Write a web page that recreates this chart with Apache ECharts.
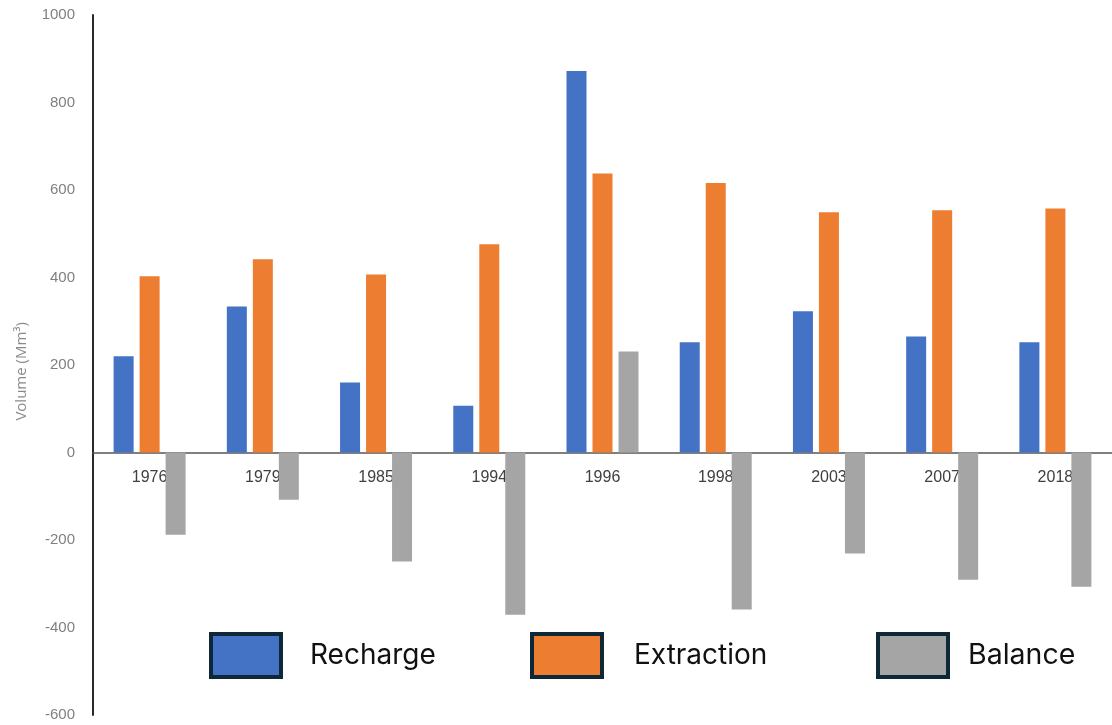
<!DOCTYPE html>
<html>
<head>
<meta charset="utf-8">
<script src="https://cdn.jsdelivr.net/npm/echarts@6/dist/echarts.min.js"></script>
<style>html,body{margin:0;padding:0;background:#fff}#c{width:1112px;height:725px}</style>
</head>
<body>
<div id="c"></div>
<script>
const years = ['1976','1979','1985','1994','1996','1998','2003','2007','2018'];
const recharge = [220, 334, 160, 107, 872, 252, 323, 265, 252];
const extraction = [403, 442, 407, 476, 638, 616, 549, 554, 558];
const balance = [-188, -108, -249, -371, 231, -359, -231, -291, -307];
const seriesNames = ['Recharge', 'Extraction', 'Balance'];
const yTicks = {min: -600, max: 1000, interval: 200};

const colors = ['#4472C4', '#ED7D31', '#A5A5A5'];
const gridH = 700;
const zeroOffset = -gridH * (0 - yTicks.min) / (yTicks.max - yTicks.min);
const chart = echarts.init(document.getElementById('c'));

function legendFor(i, left, top, pad, fontSize) {
  return {
    data: [seriesNames[i]],
    left: left, top: top, padding: 0,
    icon: 'rect', itemWidth: 70, itemHeight: 43,
    itemStyle: {borderColor: '#0E2838', borderWidth: 4},
    selectedMode: false,
    textStyle: {fontFamily: 'Inter', fontSize: fontSize, color: '#111', padding: pad}
  };
}

chart.setOption({
  animation: false,
  color: colors,
  grid: {left: 93, top: 15, width: 1026, height: gridH, containLabel: false},
  legend: [
    legendFor(0, 209, 632, [5, 0, 0, 24], 28),
    legendFor(1, 530, 632, [5, 0, 0, 27], 28),
    legendFor(2, 876, 632, [0, 0, 10, 15], 28.5)
  ],
  xAxis: {
    type: 'category', data: years,
    offset: zeroOffset,
    axisLine: {onZero: false, lineStyle: {color: '#555', width: 1.5}},
    axisTick: {show: false},
    axisLabel: {color: '#404040', fontFamily: 'Liberation Sans', fontSize: 16, margin: 17},
    splitLine: {show: false}
  },
  yAxis: {
    type: 'value', min: yTicks.min, max: yTicks.max, interval: yTicks.interval,
    axisLine: {show: true, lineStyle: {color: '#111', width: 1.8}},
    axisTick: {show: false},
    splitLine: {show: false},
    axisLabel: {color: '#7f7f7f', fontFamily: 'Liberation Sans', fontSize: 15, margin: 18,
      formatter: v => String(v)}
  },
  graphic: [{
    type: 'text', left: 14, top: 322, rotation: Math.PI / 2,
    style: {text: 'Volume (Mm³)', fill: '#8a8a8a', font: '15px "Open Sans"'}
  }],
  series: [
    {name: seriesNames[0], type: 'bar', data: recharge, barWidth: 20, barGap: '30%'},
    {name: seriesNames[1], type: 'bar', data: extraction, barWidth: 20, barGap: '30%'},
    {name: seriesNames[2], type: 'bar', data: balance, barWidth: 20, barGap: '30%'}
  ]
});
</script>
</body>
</html>
